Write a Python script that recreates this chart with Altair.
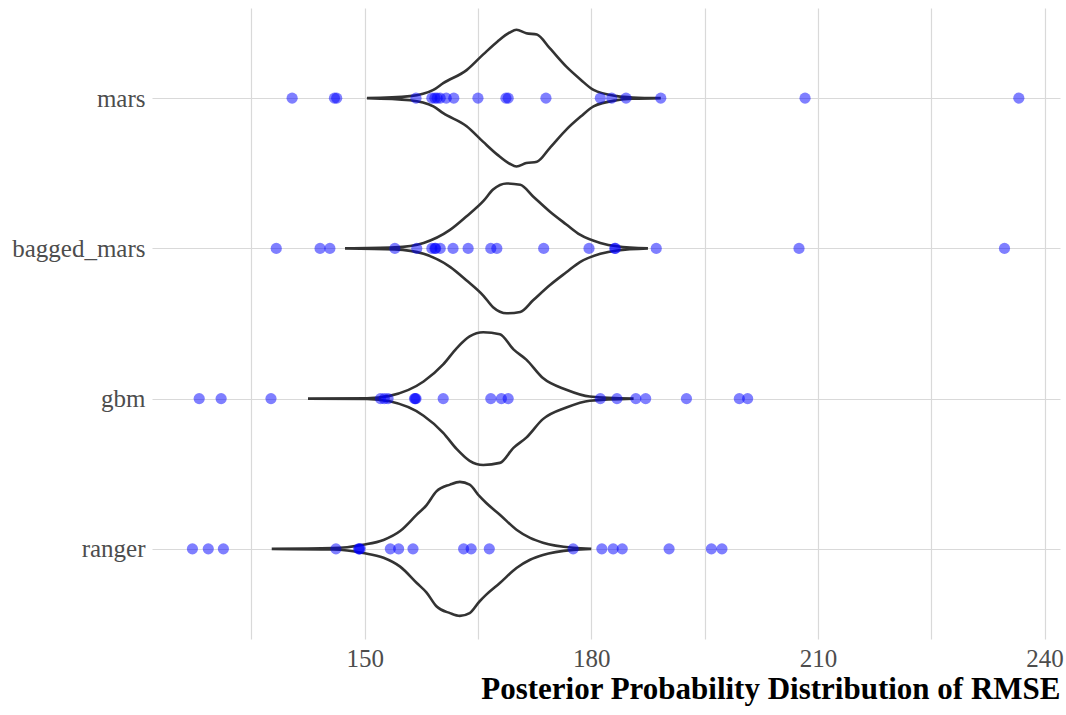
import altair as alt
import pandas as pd

models = ["mars", "bagged_mars", "gbm", "ranger"]

# observed resample RMSE values (points)
mars_pts = [140.4, 146.0, 146.3, 156.8, 158.9, 159.3, 159.6, 160.0, 160.8, 161.8,
            165.0, 168.7, 169.0, 174.0, 181.2, 182.7, 184.6, 189.2, 208.3, 236.6]
bagged_pts = [138.3, 144.1, 145.4, 154.0, 156.9, 158.9, 159.3, 159.4, 160.0, 161.7,
              163.7, 166.7, 167.5, 173.7, 179.7, 183.1, 183.2, 188.6, 207.5, 234.7]
gbm_pts = [128.1, 131.0, 137.6, 152.1, 152.6, 153.1, 156.6, 156.7, 156.8, 160.4,
           166.7, 168.1, 169.0, 181.2, 183.4, 185.9, 187.2, 192.6, 199.6, 200.7]
ranger_pts = [127.2, 129.3, 131.3, 146.2, 149.2, 149.3, 149.4, 153.4, 154.5, 156.4,
              163.1, 164.1, 166.5, 177.6, 181.4, 182.9, 184.1, 190.3, 195.9, 197.3]

# posterior density outlines (x grid and relative density, peak ~ 1)
mars_x = [150.3, 156.0, 159.1, 160.4, 163.5, 165.7, 167.6, 169.2, 170.1, 171.4, 172.8,
          174.5, 176.7, 178.6, 180.3, 183.4, 185.5, 189.2]
mars_d = [0.0, 0.03, 0.12, 0.22, 0.41, 0.64, 0.83, 0.96, 1.0, 0.95, 0.93,
          0.73, 0.46, 0.27, 0.12, 0.03, 0.01, 0.0]
bagged_x = [147.4, 154.0, 157.8, 161.3, 163.5, 165.7, 167.0, 168.8, 170.6, 172.3,
            174.5, 176.7, 178.5, 181.2, 183.4, 187.5]
bagged_d = [0.0, 0.015, 0.08, 0.27, 0.47, 0.69, 0.86, 0.95, 0.93, 0.76,
            0.54, 0.35, 0.20, 0.08, 0.03, 0.0]
gbm_x = [142.5, 150.3, 153.3, 157.8, 160.4, 162.2, 163.9, 165.7, 167.9, 169.7,
         171.4, 173.6, 176.7, 179.8, 185.6]
gbm_d = [0.0, 0.005, 0.04, 0.25, 0.50, 0.74, 0.91, 0.97, 0.94, 0.72,
         0.57, 0.30, 0.13, 0.03, 0.0]
ranger_x = [137.7, 145.8, 149.8, 152.5, 154.7, 156.9, 158.2, 159.5, 161.3, 162.6,
            163.9, 165.2, 166.1, 167.9, 170.1, 171.9, 173.6, 177.6, 180.0]
ranger_d = [0.0, 0.01, 0.06, 0.13, 0.26, 0.50, 0.64, 0.84, 0.94, 0.98,
            0.94, 0.77, 0.67, 0.50, 0.28, 0.16, 0.09, 0.015, 0.0]

pts = {"mars": mars_pts, "bagged_mars": bagged_pts, "gbm": gbm_pts, "ranger": ranger_pts}
dens = {"mars": (mars_x, mars_d), "bagged_mars": (bagged_x, bagged_d),
        "gbm": (gbm_x, gbm_d), "ranger": (ranger_x, ranger_d)}

prow, vrow = [], []
for i, m in enumerate(models, start=1):
    for v in pts[m]:
        prow.append({"model": m, "idx": i, "value": v})
    xs, ds = dens[m]
    for v, d in zip(xs, ds):
        vrow.append({"model": m, "idx": i, "value": v, "dens": d})
pdf = pd.DataFrame(prow)
vdf = pd.DataFrame(vrow)

FONT = "Liberation Serif"
GRID = "#d9d9d9"

xscale = alt.Scale(domain=[121.85, 242.05], nice=False, zero=False)
yscale = alt.Scale(domain=[0.4, 4.6], nice=False, zero=False, reverse=True)

xaxis = alt.Axis(
    values=[135, 150, 165, 180, 195, 210, 225, 240],
    labelExpr="datum.value % 30 == 0 ? datum.label : ''",
    title="Posterior Probability Distribution of RMSE",
    titleAnchor="end", titleAlign="right", titleFont=FONT, titleFontSize=31,
    titleFontWeight="bold", titleColor="#000000", titlePadding=3,
    labelFont=FONT, labelFontSize=25, labelColor="#4d4d4d", labelPadding=7,
    ticks=False, domain=False, grid=True, gridColor=GRID, gridWidth=1.2,
)
yaxis = alt.Axis(
    values=[1, 2, 3, 4],
    labelExpr="['', 'mars', 'bagged_mars', 'gbm', 'ranger'][datum.value]",
    title=None, labelFont=FONT, labelFontSize=25, labelColor="#4d4d4d",
    labelPadding=7, ticks=False, domain=False, grid=True, gridColor=GRID, gridWidth=1.2,
)

violin = alt.Chart(vdf).transform_calculate(
    yu="datum.idx - 0.455 * datum.dens",
    yl="datum.idx + 0.455 * datum.dens",
).mark_area(
    fill="#ffffff", fillOpacity=0, stroke="#333333", strokeWidth=2.6,
    interpolate="monotone",
).encode(
    x=alt.X("value:Q", scale=xscale, axis=xaxis),
    y=alt.Y("yu:Q", scale=yscale, axis=yaxis),
    y2="yl:Q",
    detail="model:N",
)

points = alt.Chart(pdf).mark_circle(
    size=125, color="#0000ff", opacity=0.5
).encode(
    x=alt.X("value:Q", scale=xscale, axis=xaxis),
    y=alt.Y("idx:Q", scale=yscale, axis=yaxis),
)

chart = alt.layer(violin, points).properties(
    width=908, height=631,
    autosize=alt.AutoSizeParams(type="none"),
    padding={"left": 152, "top": 8, "right": 6, "bottom": 76},
    background="#ffffff",
).configure_view(stroke=None)

chart.save("out.html", embed_options={"renderer": "svg", "actions": False})
